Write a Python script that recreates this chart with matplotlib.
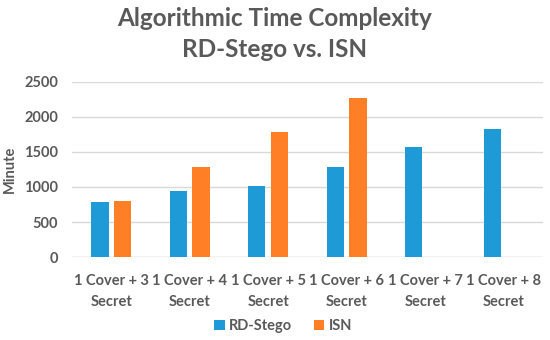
import matplotlib.pyplot as plt
import numpy as np

plt.rcParams['font.family'] = ['Lato', 'DejaVu Sans']

categories = ["1 Cover + 3\nSecret", "1 Cover + 4\nSecret", "1 Cover + 5\nSecret",
              "1 Cover + 6\nSecret", "1 Cover + 7\nSecret", "1 Cover + 8\nSecret"]
rd_stego = [780, 950, 1015, 1290, 1565, 1830]
isn = [805, 1290, 1785, 2265, 0, 0]
yticks = [0, 500, 1000, 1500, 2000, 2500]

blue = '#1E9BD7'
orange = '#FF7F27'
grey = '#595959'

fig = plt.figure(figsize=(5.5, 3.4), dpi=100)
ax = fig.add_axes([0.131, 0.244, 0.856, 0.515])

x = np.arange(len(categories))
w = 0.22
ax.bar(x - 0.145, rd_stego, w, color=blue, label='RD-Stego', zorder=3)
ax.bar(x + 0.145, isn, w, color=orange, label='ISN', zorder=3)

ax.set_xlim(-0.5, len(categories) - 0.5)
ax.set_ylim(0, 2500)
ax.set_yticks(yticks)
ax.yaxis.grid(True, color='#D9D9D9', linewidth=1, zorder=0)
for s in ax.spines.values():
    s.set_visible(False)
ax.axhline(0, color='#D9D9D9', linewidth=1, zorder=2)
ax.tick_params(axis='y', length=0, labelsize=10.5, labelcolor=grey, pad=10)
ax.tick_params(axis='x', length=0, labelsize=10.5, labelcolor=grey, pad=12)
ax.set_xticks(x)
ax.set_xticklabels(categories, fontweight='bold', linespacing=1.7)
for lab in ax.get_yticklabels():
    lab.set_fontweight('bold')
ax.set_ylabel('Minute', fontsize=10.5, fontweight='bold', color=grey, labelpad=5)

fig.text(0.5, 0.945, 'Algorithmic Time Complexity', ha='center', va='center',
         fontsize=17.5, fontweight='bold', color=grey)
fig.text(0.5, 0.855, 'RD-Stego vs. ISN', ha='center', va='center',
         fontsize=17.5, fontweight='bold', color=grey)

fig.legend(loc='center', bbox_to_anchor=(0.515, 0.042), ncol=2, frameon=False,
           handlelength=0.7, handleheight=0.7, handletextpad=0.3, columnspacing=1.5,
           prop={'size': 10.5, 'weight': 'bold'}, labelcolor=grey)

fig.savefig('out.png', dpi=100)
